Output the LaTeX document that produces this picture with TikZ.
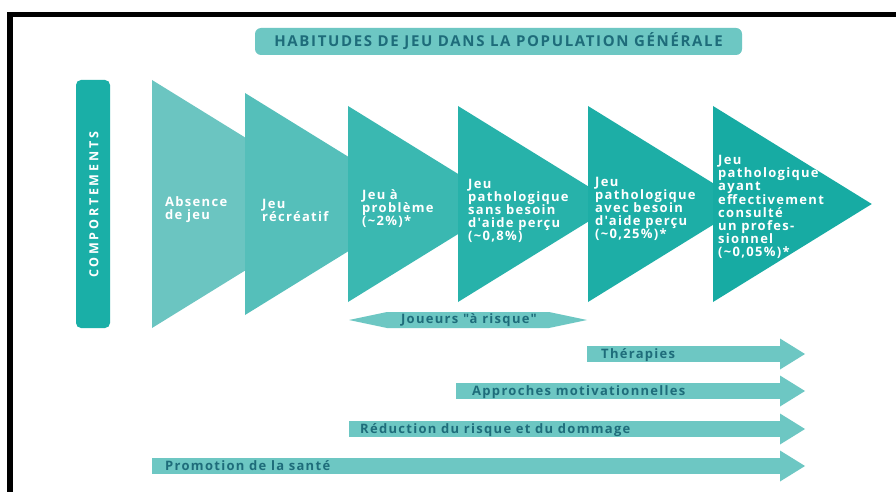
\documentclass[tikz,border=0pt]{standalone}
\usepackage{fontspec}
\setmainfont{Open Sans}
\newfontfamily\labfont[LetterSpace=10]{Open Sans}
\newfontfamily\titlefont[LetterSpace=11]{Open Sans}
\newfontfamily\vertfont[LetterSpace=22]{Open Sans}
\usetikzlibrary{positioning}

\definecolor{tealdark}{HTML}{1E6C7A}
\definecolor{barteal}{HTML}{1AAFA7}
\definecolor{armteal}{HTML}{6DC7C3}
\definecolor{chevA}{HTML}{6BC5C1}
\definecolor{chevB}{HTML}{55BFBA}
\definecolor{chevC}{HTML}{3AB8B1}
\definecolor{chevD}{HTML}{27B2AA}
\definecolor{chevE}{HTML}{1DAEA6}
\definecolor{chevF}{HTML}{17ABA3}

\tikzset{
  chevtext/.style={anchor=west, align=left, text=white, inner sep=0pt,
    font=\labfont\bfseries\fontsize{13}{13}\selectfont},
  armtext/.style={anchor=base west, text=tealdark, inner sep=0pt,
    font=\labfont\bfseries\fontsize{13}{13}\selectfont},
  armbody/.style={fill=armteal},
}

\begin{document}
\begin{tikzpicture}[x=1pt, y=-1pt]
  \clip (0,0) rectangle (896,492);
  \fill[white] (0,0) rectangle (896,492);
  % frame
  \draw[line width=5.5pt] (10,14.5) rectangle (930,530);

  % title
  \node[fill=armteal, rounded corners=6pt, minimum width=487pt, minimum height=27pt,
    text=tealdark, font=\titlefont\bfseries\fontsize{15}{15}\selectfont]
    (titre) at (498.5,41.5) {HABITUDES DE JEU DANS LA POPULATION GÉNÉRALE};

  % side bar
  \fill[barteal, rounded corners=5pt] (76,80) rectangle (110,328);
  \node[rotate=90, text=white, font=\vertfont\bfseries\fontsize{12.5}{13}\selectfont]
    (comport) at (94,205) {COMPORTEMENTS};

  % chevrons
  \foreach \x/\h/\c in {152/124/chevA, 245/111/chevB, 348/98/chevC,
                        458/98/chevD, 588/98/chevE, 713/98/chevF}
    \fill[\c] (\x,{204-\h}) -- ({\x+1.62*\h},204) -- (\x,{204+\h}) -- cycle;

  \node[chevtext] (absence)   at (165,210) {Absence\\de jeu};
  \node[chevtext] (recreatif) at (262,210) {Jeu\\récréatif};
  \node[chevtext] (probleme)  at (362,209) {Jeu à\\problème\\(\textasciitilde 2\%)*};
  \node[chevtext] (sansaide)  at (468,211) {Jeu\\pathologique\\sans besoin\\d'aide perçu\\(\textasciitilde 0,8\%)};
  \node[chevtext] (avecaide)  at (595,209) {Jeu\\pathologique\\avec besoin\\d'aide perçu\\(\textasciitilde 0,25\%)*};
  \node[chevtext] (consulte)  at (718,207) {Jeu\\pathologique\\ayant\\effectivement\\consulté\\un profes-\\sionnel\\(\textasciitilde 0,05\%)*};

  % joueurs a risque
  \fill[armteal] (349,320) -- (387,312) -- (549,312) -- (587,320)
    -- (549,328) -- (387,328) -- cycle;
  \node[text=tealdark, inner sep=0pt, font=\labfont\bfseries\fontsize{13}{13}\selectfont]
    (joueurs) at (469,320) {Joueurs "à risque"};

  % interventions
  \foreach \x/\y in {587/354, 456/391, 349/429, 152/466} {
    \fill[armbody] (\x,\y-8) rectangle (781,\y+8);
    \fill[armbody] (780,\y-15.5) -- (805,\y) -- (780,\y+15.5) -- cycle;
  }
  \node[armtext] (therapies)  at (601,358.5) {Thérapies};
  \node[armtext] (approches)  at (472,395.5) {Approches motivationnelles};
  \node[armtext] (reduction)  at (360,433.5) {Réduction du risque et du dommage};
  \node[armtext] (promotion)  at (165,470.5) {Promotion de la santé};
\end{tikzpicture}
\end{document}
